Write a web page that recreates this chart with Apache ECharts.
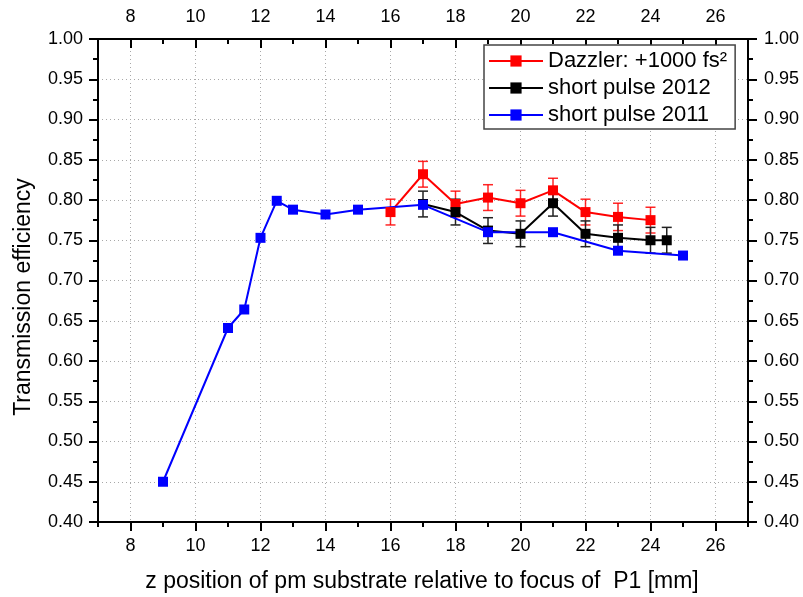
<!DOCTYPE html>
<html>
<head>
<meta charset="utf-8">
<script src="https://cdn.jsdelivr.net/npm/echarts@6/dist/echarts.min.js"></script>
<style>
html,body{margin:0;padding:0;background:#fff;}
#c{width:803px;height:597px;}
</style>
</head>
<body>
<div id="c"></div>
<script>
// ---- data ----
const xMajorTicks = [8, 10, 12, 14, 16, 18, 20, 22, 24, 26];
const xMinorTicks = [7, 9, 11, 13, 15, 17, 19, 21, 23, 25, 27];

const redName = 'Dazzler: +1000 fs²';
const redX   = [16, 17, 18, 19, 20, 21, 22, 23, 24];
const redY   = [0.785, 0.832, 0.795, 0.803, 0.796, 0.812, 0.785, 0.779, 0.775];
const redErr = [0.016, 0.016, 0.016, 0.016, 0.016, 0.015, 0.016, 0.017, 0.016];

const blackName = 'short pulse 2012';
const blackX   = [17, 18, 19, 20, 21, 22, 23, 24, 24.5];
const blackY   = [0.795, 0.785, 0.762, 0.758, 0.796, 0.758, 0.753, 0.750, 0.750];
const blackErr = [0.016, 0.016, 0.016, 0.016, 0.016, 0.016, 0.016, 0.016, 0.016];

const blueName = 'short pulse 2011';
const blueX = [9, 11, 11.5, 12, 12.5, 13, 14, 15, 17, 19, 21, 23, 25];
const blueY = [0.450, 0.641, 0.664, 0.753, 0.799, 0.788, 0.782, 0.788, 0.794, 0.760, 0.760, 0.737, 0.731];

const xTitle = 'z position of pm substrate relative to focus of  P1 [mm]';
const yTitle = 'Transmission efficiency';

// ---- chart ----
const FONT = '"Liberation Sans", Arial, sans-serif';
const chart = echarts.init(document.getElementById('c'), null, {renderer: 'canvas'});

function pairs(xs, ys) { return xs.map((x, i) => [x, ys[i]]); }

function errSeries(name, xs, ys, es, color) {
  return {
    type: 'custom',
    name: name + ' error',
    silent: true,
    xAxisIndex: 0, yAxisIndex: 0,
    data: xs.map((x, i) => [x, ys[i] - es[i], ys[i] + es[i]]),
    encode: {x: 0, y: [1, 2]},
    renderItem: function (params, api) {
      const lo = api.coord([api.value(0), api.value(1)]);
      const hi = api.coord([api.value(0), api.value(2)]);
      const w = 5;
      const st = {stroke: color, lineWidth: 1.5};
      return {
        type: 'group',
        children: [
          {type: 'line', shape: {x1: lo[0], y1: lo[1], x2: hi[0], y2: hi[1]}, style: st},
          {type: 'line', shape: {x1: lo[0] - w, y1: lo[1], x2: lo[0] + w, y2: lo[1]}, style: st},
          {type: 'line', shape: {x1: hi[0] - w, y1: hi[1], x2: hi[0] + w, y2: hi[1]}, style: st}
        ]
      };
    }
  };
}

function lineSeries(name, xs, ys, color) {
  return {
    type: 'line',
    name: name,
    xAxisIndex: 0, yAxisIndex: 0,
    data: pairs(xs, ys),
    symbol: 'rect',
    symbolSize: 10,
    showAllSymbol: true,
    lineStyle: {color: color, width: 2},
    itemStyle: {color: color},
    emphasis: {disabled: true},
    animation: false
  };
}

const axisLineStyle = {color: '#000', width: 2};
const labelStyle = {fontSize: 18, color: '#000', fontFamily: FONT};
const gridColor = '#a8a8a8';

const option = {
  animation: false,
  backgroundColor: '#fff',
  grid: {left: 98, right: 55, top: 39, bottom: 75, containLabel: false},
  legend: {
    data: [redName, blackName, blueName],
    orient: 'vertical',
    left: 484, top: 45,
    itemWidth: 54, itemHeight: 14,
    itemGap: 5,
    padding: [5, 8, 3, 4],
    borderColor: '#444', borderWidth: 1.5,
    backgroundColor: '#fff',
    textStyle: {fontSize: 22, color: '#000', fontFamily: FONT},
    selectedMode: false
  },
  xAxis: [
    { // bottom major
      type: 'value', position: 'bottom', min: 7, max: 27, interval: 1,
      axisLine: {show: true, onZero: false, lineStyle: axisLineStyle},
      axisTick: {show: true, customValues: xMajorTicks, length: 9, lineStyle: {color: '#000', width: 2}},
      axisLabel: Object.assign({customValues: xMajorTicks, margin: 15}, labelStyle),
      splitLine: {show: false}
    },
    { // bottom minor
      type: 'value', position: 'bottom', min: 7, max: 27, interval: 1,
      axisLine: {show: false, onZero: false},
      axisTick: {show: true, customValues: xMinorTicks, length: 5, lineStyle: {color: '#000', width: 2}},
      axisLabel: {show: false},
      splitLine: {show: false}
    },
    { // top major
      type: 'value', position: 'top', min: 7, max: 27, interval: 1,
      axisLine: {show: true, onZero: false, lineStyle: axisLineStyle},
      axisTick: {show: true, inside: true, customValues: xMajorTicks, length: 9, lineStyle: {color: '#000', width: 2}},
      axisLabel: Object.assign({customValues: xMajorTicks, margin: 13}, labelStyle),
      splitLine: {show: false}
    },
    { // top minor
      type: 'value', position: 'top', min: 7, max: 27, interval: 1,
      axisLine: {show: false, onZero: false},
      axisTick: {show: true, inside: true, customValues: xMinorTicks, length: 5, lineStyle: {color: '#000', width: 2}},
      axisLabel: {show: false},
      splitLine: {show: false}
    },
    { // vertical grid lines at even values only (every integer tick, alternate transparent)
      type: 'value', position: 'bottom', min: 7, max: 27, interval: 1,
      axisLine: {show: false, onZero: false},
      axisTick: {show: false},
      axisLabel: {show: false},
      splitLine: {show: true, lineStyle: {color: ['rgba(0,0,0,0)', gridColor], width: 1, type: [1, 3]}}
    }
  ],
  yAxis: [
    {
      type: 'value', position: 'left', min: 0.4, max: 1.0, interval: 0.05,
      axisLine: {show: true, onZero: false, lineStyle: axisLineStyle},
      axisTick: {show: true, length: 9, lineStyle: {color: '#000', width: 2}},
      minorTick: {show: true, splitNumber: 2, length: 5, lineStyle: {color: '#000', width: 2}},
      axisLabel: Object.assign({margin: 15, formatter: v => v.toFixed(2)}, labelStyle),
      splitLine: {show: true, lineStyle: {color: gridColor, width: 1, type: [1, 3]}}
    },
    {
      type: 'value', position: 'right', min: 0.4, max: 1.0, interval: 0.05,
      axisLine: {show: true, onZero: false, lineStyle: axisLineStyle},
      axisTick: {show: true, length: 9, lineStyle: {color: '#000', width: 2}},
      minorTick: {show: true, splitNumber: 2, length: 5, lineStyle: {color: '#000', width: 2}},
      axisLabel: Object.assign({margin: 16, formatter: v => v.toFixed(2)}, labelStyle),
      splitLine: {show: false}
    }
  ],
  graphic: [
    {
      type: 'text', x: 422, y: 582,
      style: {text: xTitle, fontSize: 23, fill: '#000', fontFamily: FONT, textAlign: 'center', textVerticalAlign: 'middle'}
    },
    {
      type: 'text', x: 24, y: 297, rotation: Math.PI / 2,
      style: {text: yTitle, fontSize: 23, fill: '#000', fontFamily: FONT, textAlign: 'center', textVerticalAlign: 'middle'}
    }
  ],
  series: [
    errSeries(redName, redX, redY, redErr, 'rgba(255,0,0,0.85)'),
    lineSeries(redName, redX, redY, '#ff0000'),
    errSeries(blackName, blackX, blackY, blackErr, '#222'),
    lineSeries(blackName, blackX, blackY, '#000000'),
    lineSeries(blueName, blueX, blueY, '#0000ff')
  ]
};
chart.setOption(option);
</script>
</body>
</html>
